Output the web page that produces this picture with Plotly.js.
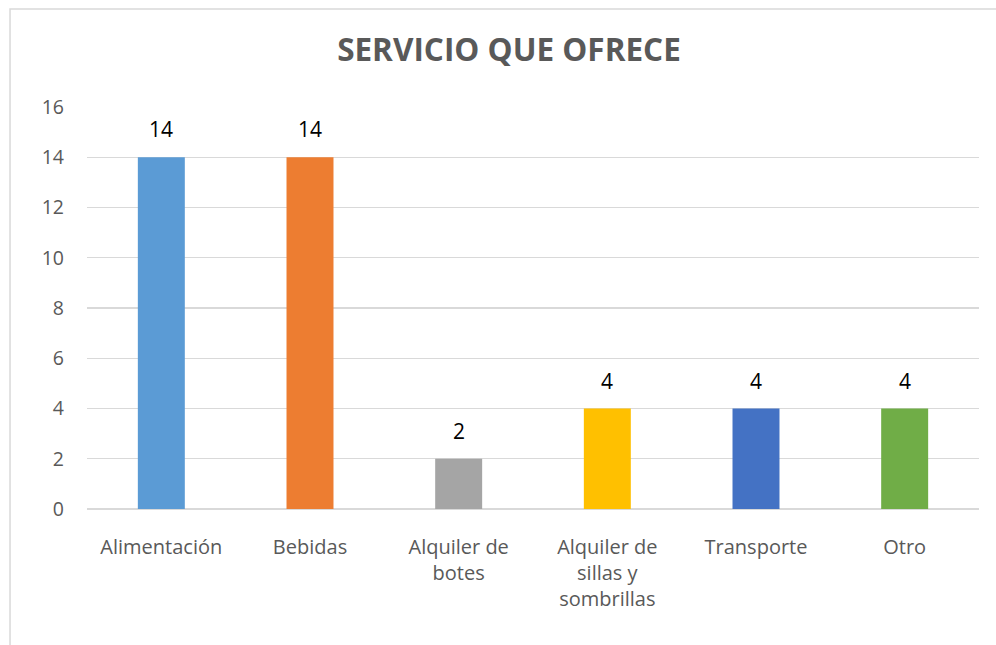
<!DOCTYPE html>
<html>
<head>
<meta charset="utf-8">
<script src="https://cdn.plot.ly/plotly-3.0.1.min.js"></script>
<style>html,body{margin:0;padding:0;background:#fff;}#chart{width:996px;height:645px;}</style>
</head>
<body>
<div id="chart"></div>
<script>
const categories = ["Alimentación", "Bebidas", "Alquiler de<br>botes", "Alquiler de<br>sillas y<br>sombrillas", "Transporte", "Otro"];
const values = [14, 14, 2, 4, 4, 4];
const barColors = ["#5B9BD5", "#ED7D31", "#A5A5A5", "#FFC000", "#4472C4", "#70AD47"];
const yTicks = [0, 2, 4, 6, 8, 10, 12, 14, 16];

const trace = {
  type: "bar",
  x: categories,
  y: values,
  marker: {color: barColors},
  width: 0.316,
  cliponaxis: false,
  hoverinfo: "none"
};

const labelAnnotations = categories.map((c, i) => ({
  x: c, y: values[i], xref: "x", yref: "y",
  text: String(values[i]),
  showarrow: false, yanchor: "bottom", yshift: 12,
  font: {family: "Open Sans, sans-serif", size: 21, color: "#000000"}
}));

const layout = {
  width: 996, height: 645,
  margin: {l: 87, r: 17, t: 107, b: 136},
  paper_bgcolor: "#ffffff",
  plot_bgcolor: "#ffffff",
  showlegend: false,
  bargap: 0.684,
  title: {
    text: "<b>SERVICIO QUE OFRECE</b>",
    font: {family: "Open Sans, sans-serif", size: 31.5, color: "#595959"},
    x: 0.511, xanchor: "center", xref: "container",
    y: 0.923, yanchor: "middle", yref: "container"
  },
  font: {family: "Open Sans, sans-serif", color: "#595959"},
  xaxis: {
    type: "category",
    tickfont: {family: "Open Sans, sans-serif", size: 20, color: "#595959"},
    showgrid: false, zeroline: false, showline: false, ticks: "",
    ticklabelstandoff: 24
  },
  yaxis: {
    range: [0, 16],
    tickvals: yTicks,
    ticktext: yTicks.map(String),
    tickfont: {family: "Open Sans, sans-serif", size: 19.5, color: "#595959"},
    showgrid: true, gridcolor: "#D9D9D9", gridwidth: 1.3,
    zeroline: true, zerolinecolor: "#D9D9D9", zerolinewidth: 1.3,
    showline: false, ticks: "",
    ticklabelstandoff: 22
  },
  annotations: labelAnnotations,
  shapes: [{
    type: "rect", xref: "paper", yref: "paper",
    x0: -0.0863, x1: 1.05, y0: -0.45, y1: 1.2438,
    line: {color: "#D9D9D9", width: 1.5}, fillcolor: "rgba(0,0,0,0)", layer: "below"
  }]
};

Plotly.newPlot("chart", [trace], layout, {displayModeBar: false, staticPlot: true});
</script>
</body>
</html>
